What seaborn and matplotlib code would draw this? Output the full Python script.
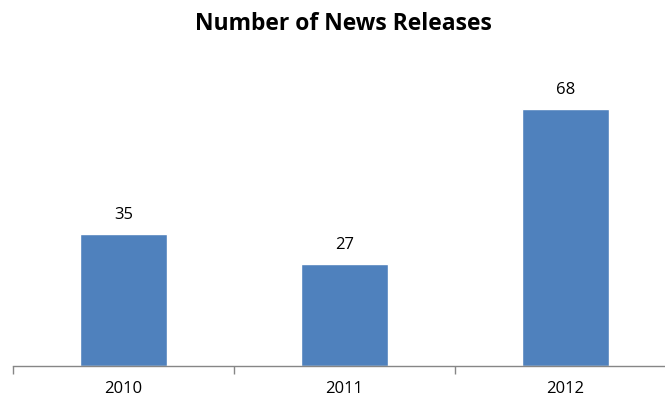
import matplotlib
matplotlib.use("Agg")
import matplotlib.pyplot as plt
import seaborn as sns
import pandas as pd

years = ["2010", "2011", "2012"]
releases = [35, 27, 68]

sns.set_theme(style="white")
plt.rcParams['font.family'] = ['Open Sans', 'DejaVu Sans']

df = pd.DataFrame({"year": years, "releases": releases})

fig = plt.figure(figsize=(6.65, 3.99), dpi=100)
ax = fig.add_axes([13 / 665, 33 / 399, 663 / 665, 302 / 399])
sns.barplot(data=df, x="year", y="releases", color="#4F81BD", width=0.39,
            saturation=1, ax=ax)

for i, v in enumerate(releases):
    ax.text(i, v + 3, str(v), ha="center", va="bottom", fontsize=12, color="#000000")

ax.set_xlim(-0.5, 2.5)
ax.set_ylim(0, 80)
ax.set_yticks([])
ax.set_xlabel("")
ax.set_ylabel("")
for s in ["top", "right", "left"]:
    ax.spines[s].set_visible(False)
ax.spines["bottom"].set_color("#868686")
ax.spines["bottom"].set_linewidth(1)

# category boundary tick marks
ax.set_xticks([-0.5, 0.5, 1.5, 2.5], minor=True)
ax.tick_params(axis="x", which="minor", length=6, color="#868686", width=1, direction="out", bottom=True)
ax.tick_params(axis="x", which="major", length=0, labelsize=12, pad=11, labelcolor="#000000")

fig.text(343 / 665, 1 - 24 / 399, "Number of News Releases", ha="center", va="center",
         fontsize=16.5, fontweight="bold", color="#000000")

fig.savefig("out.png", dpi=100)
